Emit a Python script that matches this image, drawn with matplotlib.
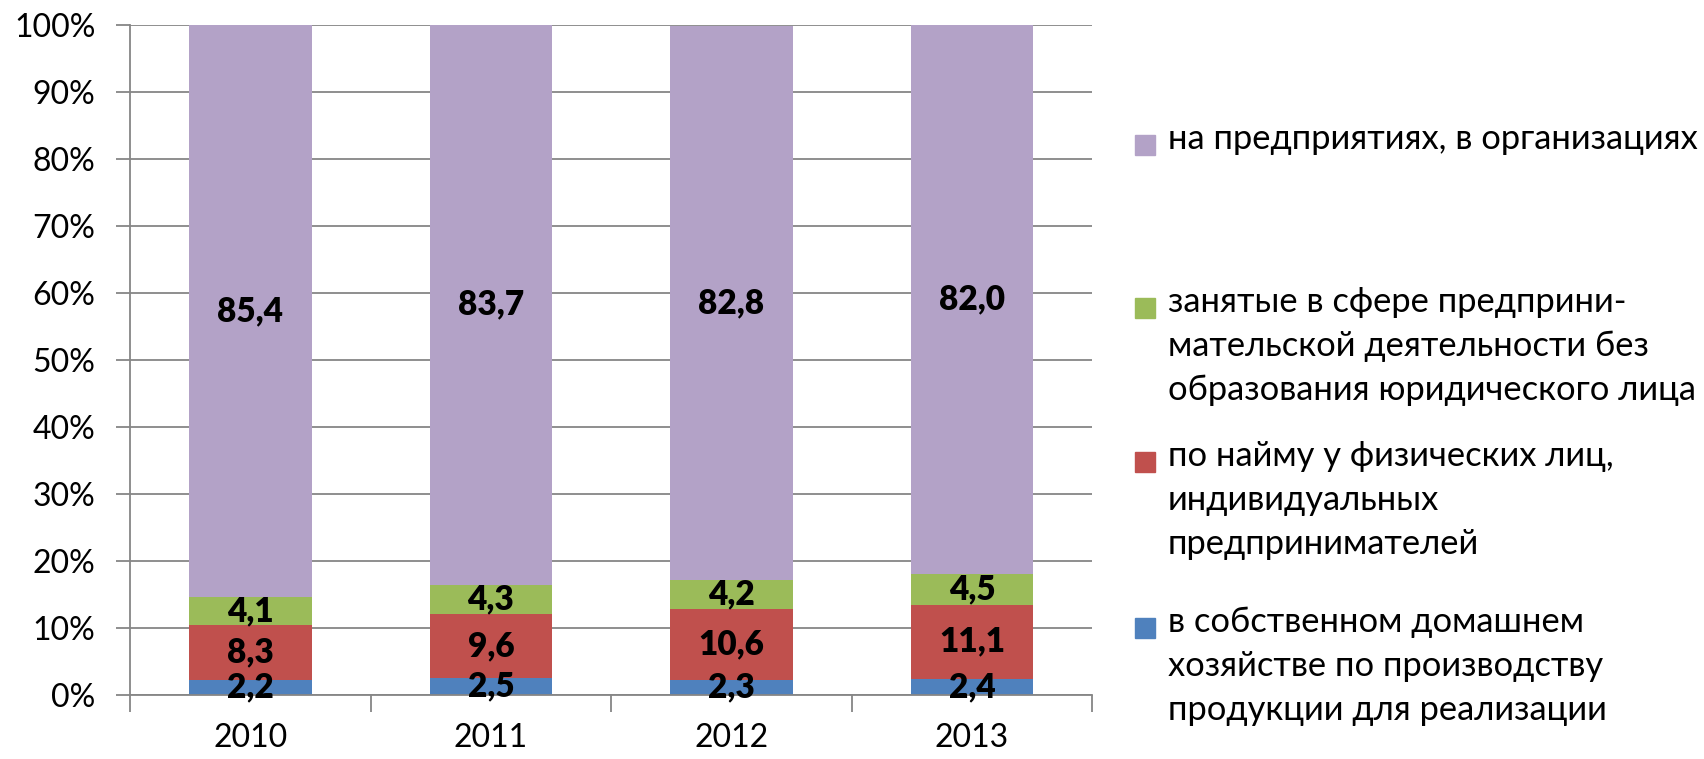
import matplotlib.pyplot as plt
from matplotlib.patches import Rectangle
import numpy as np

plt.rcParams['font.family'] = ['Lato', 'DejaVu Sans']

years = ['2010', '2011', '2012', '2013']
own_household = [2.2, 2.5, 2.3, 2.4]
hired_by_persons = [8.3, 9.6, 10.6, 11.1]
entrepreneurs = [4.1, 4.3, 4.2, 4.5]
enterprises = [85.4, 83.7, 82.8, 82.0]

series = [own_household, hired_by_persons, entrepreneurs, enterprises]
colors = ['#4F81BD', '#C0504D', '#9BBB59', '#B3A2C7']
labels = [
    'в собственном домашнем\nхозяйстве по производству\nпродукции для реализации',
    'по найму у физических лиц,\nиндивидуальных\nпредпринимателей',
    'занятые в сфере предприни-\nмательской деятельности без\nобразования юридического лица',
    'на предприятиях, в организациях',
]

fig = plt.figure(figsize=(17.04, 7.59), dpi=100)
ax = fig.add_axes([0.0763, 0.0843, 0.5647, 0.8827])

x = np.arange(len(years))
bottom = np.zeros(len(years))
for vals, col in zip(series, colors):
    vals = np.array(vals)
    ax.bar(x, vals, width=0.51, bottom=bottom, color=col, edgecolor='none', zorder=2)
    for xi, b, v in zip(x, bottom, vals):
        ax.text(xi, b + v / 2, f'{v:.1f}'.replace('.', ','), ha='center', va='center',
                fontsize=24, fontweight='heavy', color='black', zorder=3)
    bottom += vals

ax.set_xlim(-0.5, len(years) - 0.5)
ax.set_ylim(0, 100)
ax.set_yticks(np.arange(0, 101, 10))
ax.set_yticklabels([f'{v}%' for v in range(0, 101, 10)], fontsize=23)
ax.yaxis.grid(True, color='#868686', linewidth=1.3, zorder=0)
ax.set_axisbelow(True)

ax.set_xticks(x)
ax.set_xticklabels(years, fontsize=23)
ax.set_xticks(np.arange(-0.5, len(years)), minor=True)
ax.tick_params(axis='x', which='major', length=0, pad=20)
ax.tick_params(axis='x', which='minor', length=12, width=1.3, color='#868686')
ax.tick_params(axis='y', length=10, width=1.3, color='#868686', pad=15)

for s in ['top', 'right']:
    ax.spines[s].set_visible(False)
for s in ['left', 'bottom']:
    ax.spines[s].set_color('#868686')
    ax.spines[s].set_linewidth(1.3)

# legend drawn by hand: square + text, top to bottom
leg_y = [145, 308, 462, 628]  # pixel rows of first line
for i, yy in enumerate(leg_y):
    idx = len(series) - 1 - i
    yf = 1 - yy / 759
    fig.patches.append(Rectangle((1135 / 1704, yf - 10 / 759), 20 / 1704, 20 / 759,
                                 transform=fig.transFigure, color=colors[idx]))
    fig.text(1168 / 1704, yf + 22 / 759, labels[idx], fontsize=24.8, va='top', ha='left',
             linespacing=1.46)

fig.savefig('out.png', dpi=100)
